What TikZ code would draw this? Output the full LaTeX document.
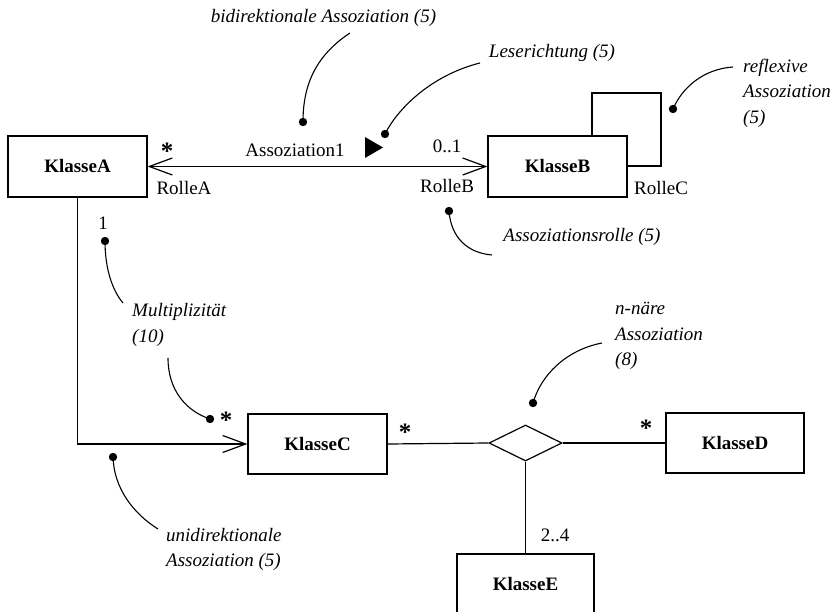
\documentclass[tikz,border=0pt]{standalone}
\usepackage{fontspec}
\setmainfont{Liberation Serif}
\usetikzlibrary{arrows.meta,shapes.geometric}

\tikzset{
  klasse/.style={draw, line width=1.2pt, minimum width=139pt, minimum height=61pt,
    inner sep=0pt, font=\fontsize{19}{22}\selectfont\bfseries},
  lbl/.style={inner sep=0pt, font=\fontsize{19}{22}\selectfont},
  note/.style={inner sep=0pt, align=left, font=\fontsize{19}{25.5}\selectfont\itshape},
  star/.style={inner sep=0pt, font=\fontsize{25}{26}\selectfont\bfseries},
  conn/.style={line width=1.2pt},
  lead/.style={line width=1.1pt},
  barb/.tip={Straight Barb[length=23pt, width=17pt, line width=1.2pt]},
  pin/.style={fill=black},
}

\begin{document}
\begin{tikzpicture}[x=1pt, y=-1pt]
  \useasboundingbox (0,0) rectangle (835,612);
  \clip (0,0) rectangle (835,612);

  % classes
  \node[klasse] (A) at (77.5,166.5) {KlasseA};
  \node[klasse] (B) at (557.5,166.5) {KlasseB};
  \node[klasse, minimum height=60pt] (C) at (317.5,444) {KlasseC};
  \node[klasse, minimum height=60pt, minimum width=138pt] (D) at (735,443) {KlasseD};
  \node[klasse, minimum height=60pt, minimum width=137pt] (E) at (525.5,584) {KlasseE};

  % n-ary association diamond
  \node[draw, line width=1.2pt, diamond, inner sep=0pt, minimum width=73pt,
        minimum height=36pt] (N) at (525.5,443) {};

  % bidirectional association A <-> B
  \draw[conn, {barb}-{barb}] (A.east) -- (B.west);

  % reflexive association on B
  \coordinate (r1) at (592,93);
  \coordinate (r2) at (661,166);
  \draw[conn] (r1 |- B.north) -- (r1) -| (r2) -- (r2 -| B.east);

  % unidirectional association A -> C
  \draw[conn, -{barb}] (A.south) |- (C.west);

  % n-ary association lines
  \draw[conn] (C.east) -- (N.west);
  \draw[conn] (N.east) -- (D.west);
  \draw[conn] (N.south) -- (E.north);

  % association adornments
  \node[star] (sA) at (167,151) {*};
  \node[lbl] (rA) at (184,188) {RolleA};
  \node[lbl] (as1) at (295,150) {Assoziation1};
  \fill (365,137) -- (383,147.5) -- (365,158) -- cycle;
  \node[lbl] (m01) at (447,146) {0..1};
  \node[lbl] (rB) at (447,186) {RolleB};
  \node[lbl] (rC) at (661,188) {RolleC};
  \node[lbl] (m1) at (103,223) {1};
  \node[star] (sC1) at (226,420) {*};
  \node[star] (sC2) at (405,432) {*};
  \node[star] (sD) at (646,428) {*};
  \node[lbl] (m24) at (555,535) {2..4};

  % explanatory notes
  \node[note] (n1) at (323.5,18) {bidirektionale Assoziation (5)};
  \node[note] (n2) at (552,53) {Leserichtung (5)};
  \node[note, anchor=west] (n3) at (743,93) {reflexive\\Assoziation\\(5)};
  \node[note] (n4) at (582,237) {Assoziationsrolle (5)};
  \node[note, anchor=west] (n5) at (132,325) {Multiplizität\\(10)};
  \node[note, anchor=west] (n6) at (615,336) {n-näre\\Assoziation\\(8)};
  \node[note, anchor=west] (n7) at (166,549.5) {unidirektionale\\Assoziation (5)};

  % leader lines with pins
  \coordinate (p1) at (303,122);
  \draw[lead] (350,33) .. controls (312,58) and (303,90) .. (p1);
  \fill[pin] (p1) circle (4.2);

  \coordinate (p2) at (385,134);
  \draw[lead] (480,63) .. controls (432,75) and (398,108) .. (p2);
  \fill[pin] (p2) circle (4.2);

  \coordinate (p3) at (673,109);
  \draw[lead] (733,67) .. controls (703,69) and (682,88) .. (p3);
  \fill[pin] (p3) circle (4.2);

  \coordinate (p4) at (449,211);
  \draw[lead] (p4) .. controls (451,238) and (468,253) .. (492,255);
  \fill[pin] (p4) circle (4.2);

  \coordinate (p5) at (105,241);
  \draw[lead] (p5) .. controls (105,268) and (112,290) .. (123,303);
  \fill[pin] (p5) circle (4.2);

  \coordinate (p6) at (210,419);
  \draw[lead] (168,358) .. controls (168,390) and (186,411) .. (p6);
  \fill[pin] (p6) circle (4.2);

  \coordinate (p7) at (113,457);
  \draw[lead] (p7) .. controls (114,489) and (134,514) .. (158,529);
  \fill[pin] (p7) circle (4.2);

  \coordinate (p8) at (533,403);
  \draw[lead] (602,343) .. controls (566,350) and (541,375) .. (p8);
  \fill[pin] (p8) circle (4.2);
\end{tikzpicture}
\end{document}
